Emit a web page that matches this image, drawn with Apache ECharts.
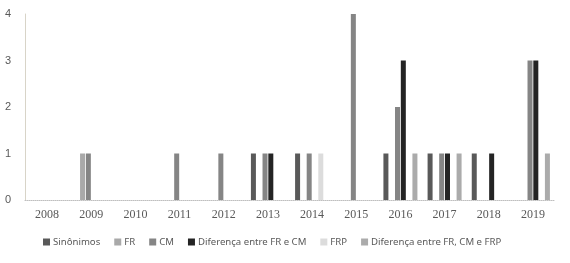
<!DOCTYPE html>
<html>
<head>
<meta charset="utf-8">
<script src="https://cdn.jsdelivr.net/npm/echarts@6/dist/echarts.min.js"></script>
<style>
  html, body { margin: 0; padding: 0; background: #fff; }
  #chart { width: 570px; height: 263px; }
</style>
</head>
<body>
<div id="chart"></div>
<script>
const years = ['2008', '2009', '2010', '2011', '2012', '2013', '2014', '2015', '2016', '2017', '2018', '2019'];
const sinonimos = [0, 0, 0, 0, 0, 1, 1, 0, 1, 1, 1, 0];
const fr = [0, 1, 0, 0, 0, 0, 0, 0, 0, 0, 0, 0];
const cm = [0, 1, 0, 1, 1, 1, 1, 4, 2, 1, 0, 3];
const difFrCm = [0, 0, 0, 0, 0, 1, 0, 0, 3, 1, 1, 3];
const frp = [0, 0, 0, 0, 0, 0, 1, 0, 0, 0, 0, 0];
const difTodos = [0, 0, 0, 0, 0, 0, 0, 0, 1, 1, 0, 1];

const seriesNames = ['Sinônimos', 'FR', 'CM', 'Diferença entre FR e CM', 'FRP', 'Diferença entre FR, CM e FRP'];
const seriesData = [sinonimos, fr, cm, difFrCm, frp, difTodos];
const colors = ['#595959', '#a9a9a9', '#858585', '#242424', '#dcdcdc', '#ababab'];

const chart = echarts.init(document.getElementById('chart'));

chart.setOption({
  animation: false,
  color: colors,
  grid: { left: 25, right: 15, top: 14, bottom: 63 },
  legend: {
    bottom: 11,
    left: 38,
    icon: 'rect',
    itemWidth: 7,
    itemHeight: 7,
    itemGap: 14,
    textStyle: { color: '#595959', fontSize: 9.6, fontFamily: 'Noto Sans', padding: [0, 0, 0, -2] },
    data: seriesNames
  },
  xAxis: {
    type: 'category',
    data: years,
    axisLine: { lineStyle: { color: '#bfbfbf', type: 'dotted' } },
    axisTick: { show: false },
    axisLabel: { color: '#595959', fontSize: 12, fontFamily: 'Liberation Serif', margin: 9 }
  },
  yAxis: {
    type: 'value',
    min: 0,
    max: 4,
    interval: 1,
    axisLine: { show: true, lineStyle: { color: '#d8d4c8' } },
    axisTick: { show: false },
    splitLine: { show: false },
    axisLabel: { color: '#595959', fontSize: 11, fontFamily: 'Liberation Sans', margin: 14 }
  },
  series: seriesNames.map(function (name, i) {
    return {
      name: name,
      type: 'bar',
      data: seriesData[i],
      barWidth: 5,
      barGap: '16%'
    };
  })
});
</script>
</body>
</html>
